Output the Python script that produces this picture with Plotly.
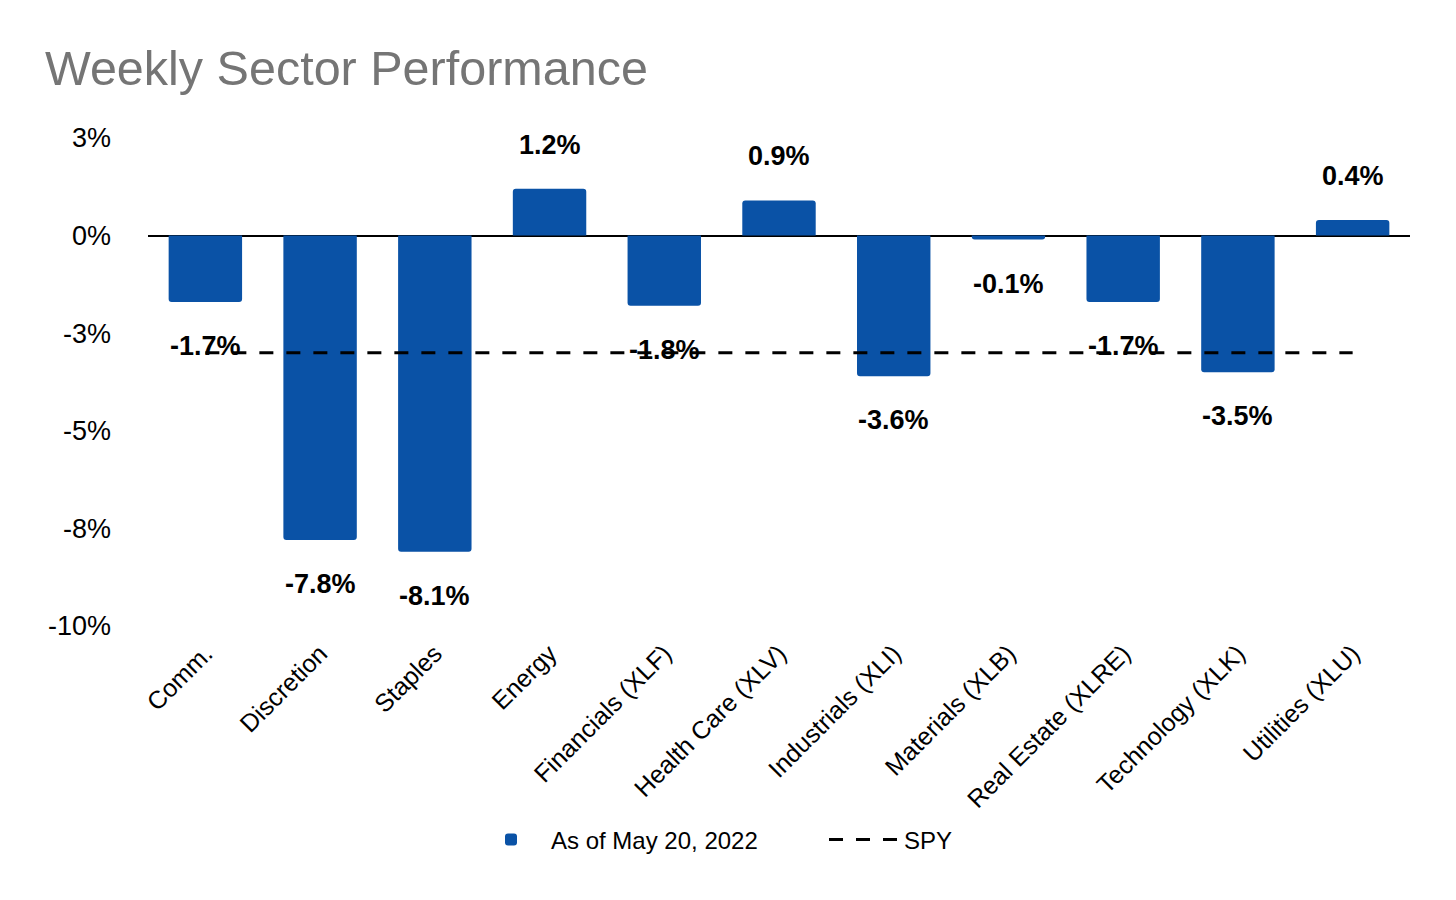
import plotly.graph_objects as go

categories = ["Comm.", "Discretion", "Staples", "Energy", "Financials (XLF)",
              "Health Care (XLV)", "Industrials (XLI)", "Materials (XLB)",
              "Real Estate (XLRE)", "Technology (XLK)", "Utilities (XLU)"]
weekly_values = [-1.7, -7.8, -8.1, 1.2, -1.8, 0.9, -3.6, -0.1, -1.7, -3.5, 0.4]
spy_values = [-3.0, -3.0, -3.0, -3.0, -3.0, -3.0, -3.0, -3.0, -3.0, -3.0, -3.0]
y_tick_values = [2.5, 0, -2.5, -5, -7.5, -10]
y_tick_labels = ["3%", "0%", "-3%", "-5%", "-8%", "-10%"]

FONT = "Arial, Liberation Sans, sans-serif"
BLUE = "#0A52A6"

W, H = 1440, 884  # page body has an 8px margin

fig = go.Figure()
fig.add_trace(go.Bar(
    x=categories, y=weekly_values, name="As of May 20, 2022",
    marker=dict(color=BLUE, cornerradius=3, line=dict(width=0)),
))
fig.add_trace(go.Scatter(
    x=categories, y=spy_values, name="SPY", mode="lines",
    line=dict(color="black", width=3, dash="14px,13px"),
))

for c, v in zip(categories, weekly_values):
    fig.add_annotation(
        x=c, y=v, text=f"{v:.1f}%", showarrow=False,
        yshift=44 if v >= 0 else -44, yanchor="middle",
        font=dict(family=FONT, size=27, color="black", weight="bold"),
    )

fig.update_layout(
    width=W, height=H,
    margin=dict(l=140, r=38, t=130, b=266, autoexpand=False),
    paper_bgcolor="white", plot_bgcolor="white",
    bargap=0.36,
    title=dict(text="Weekly Sector Performance", x=37 / W, xanchor="left",
               xref="container", y=1 - 60 / H, yanchor="middle", yref="container",
               font=dict(family=FONT, size=48.5, color="#757575")),
    font=dict(family=FONT, color="black"),
    showlegend=True,
    legend=dict(orientation="h", x=463 / W, xanchor="left", xref="container",
                y=1 - 832 / H, yanchor="middle", yref="container",
                font=dict(family=FONT, size=24, color="black"),
                itemwidth=70, entrywidth=268, entrywidthmode="pixels",
                traceorder="normal"),
    xaxis=dict(tickangle=-45, tickfont=dict(family=FONT, size=25, color="black"),
               showgrid=False, showline=False, ticks="", ticklabelstandoff=7,
               automargin=False),
    yaxis=dict(range=[-10, 2.5], tickvals=y_tick_values, ticktext=y_tick_labels,
               tickfont=dict(family=FONT, size=27, color="black"),
               showgrid=False, showline=False, zeroline=True,
               zerolinecolor="black", zerolinewidth=1.5,
               ticks="", ticklabelstandoff=36, automargin=False),
)

fig.write_html("out.html")
